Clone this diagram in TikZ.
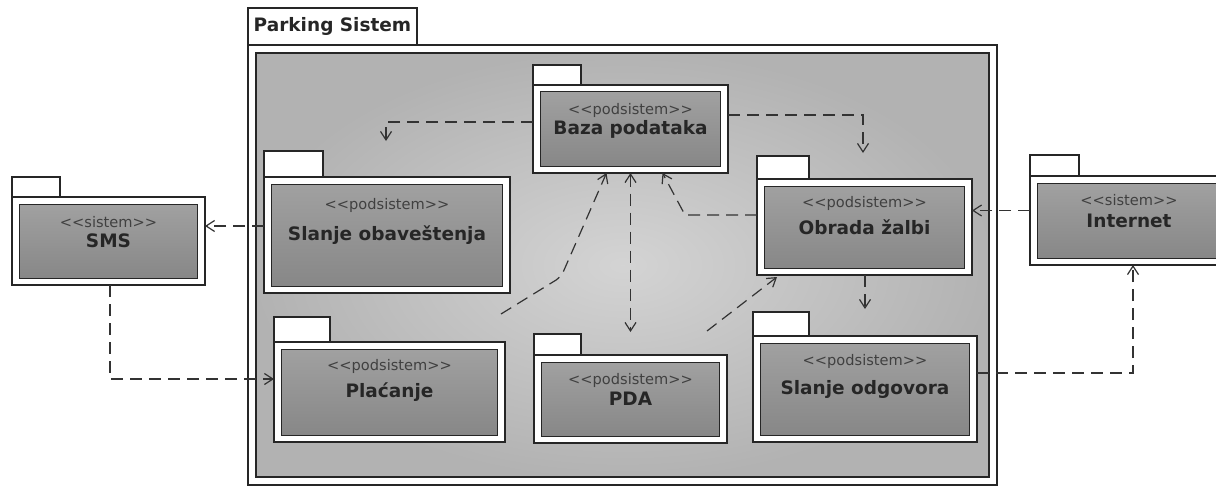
\documentclass[tikz,border=0pt]{standalone}
\usepackage{fontspec}
\setmainfont{DejaVu Sans}
\usetikzlibrary{arrows.meta,calc}
\newcommand\umlpkg[9]{%
  \node[pkgbody, minimum width=#3pt, minimum height=#4pt] (#1) at (#2) {};
  \node[pkgbody, minimum width=#5pt, minimum height=#6pt, anchor=south west] (#1-tab) at (#1.north west) {};
  \node[pkginner, minimum width=#3pt-15pt, minimum height=#4pt-14pt] (#1-in) at (#1) {};
  \node[stereo] (#1-st) at ([yshift=#7pt]#1.center) {<{}<#8>{}>};
  \node[pkgname] (#1-nm) at (#1.center) {#9};
}
\begin{document}
\begin{tikzpicture}[x=1pt,y=-1pt,
  pkgbody/.style={draw=black!85, fill=white, line width=1.1pt, inner sep=0pt, outer sep=0pt},
  pkginner/.style={draw=black!85, line width=1pt, top color=black!37, bottom color=black!47, inner sep=0pt, outer sep=0pt},
  sysinner/.style={draw=black!85, line width=1.1pt, inner color=black!17, outer color=black!30, inner sep=0pt, outer sep=0pt},
  stereo/.style={font=\fontsize{14.6}{16}\selectfont, text=black!75, inner sep=0pt},
  pkgname/.style={font=\fontsize{18.5}{21}\selectfont\bfseries, text=black!85, inner sep=0pt},
  >={Straight Barb[length=8.5pt,width=11pt]},
  dep/.style={draw=black!80, line width=1.2pt, dash pattern=on 12pt off 7pt, ->},
  depboth/.style={dep, <->}]
\useasboundingbox (0,0) rectangle (1216,487);
\fill[white] (0,0) rectangle (1216,487);
% system frame
\node[pkgbody, minimum width=749pt, minimum height=440pt] (sys) at (622.5,265) {};
\node[pkgbody, minimum width=169pt, minimum height=37pt, anchor=south west, font=\fontsize{18.5}{21}\selectfont\bfseries, text=black!85] (sys-tab) at (sys.north west) {Parking Sistem};
\node[sysinner, minimum width=733pt, minimum height=424pt] (sys-in) at (sys) {};
% packages
\umlpkg{sms}{108.5,241}{193}{88}{48}{20}{19}{sistem}{SMS}
\umlpkg{obav}{387,235}{246}{116}{59}{26}{30}{podsistem}{Slanje obaveštenja}
\umlpkg{baza}{630.5,129}{195}{88}{48}{20}{19}{podsistem}{Baza podataka}
\umlpkg{obrada}{864.5,227}{215}{96}{52}{23}{24}{podsistem}{Obrada žalbi}
\umlpkg{internet}{1129,220.5}{198}{89}{49}{21}{20}{sistem}{Internet}
\umlpkg{placanje}{389.5,392}{231}{100}{56}{25}{26}{podsistem}{Plaćanje}
\umlpkg{pda}{630.5,399}{193}{88}{47}{21}{19}{podsistem}{PDA}
\umlpkg{odg}{865,389}{224}{106}{56}{24}{28}{podsistem}{Slanje odgovora}
% connectors
\coordinate (e1) at (386,141);
\draw[dep] ([yshift=7pt]baza.west) -| (e1);
\coordinate (e2) at (863,153);
\draw[dep] ([yshift=14pt]baza.east) -| (e2);
\coordinate (k3) at (685,215);
\draw[dep] ([yshift=12pt]obrada.west) -- (k3) -- ([xshift=32pt]baza.south);
\coordinate (s4) at (501,314);
\coordinate (k4) at (561,277);
\draw[dep, rounded corners=6pt] (s4) -- (k4) -- ([xshift=-24pt]baza.south);
\draw[depboth] (baza.south) -- ([yshift=23pt]pda.north);
\coordinate (s6) at (707,331);
\draw[dep] (s6) -- ([xshift=20pt,yshift=-2pt]obrada.south west);
\coordinate (e7) at (865,309);
\draw[dep] (obrada.south -| e7) -- (e7);
\draw[dep] ([yshift=10pt]internet.west) coordinate (s8) -- (obrada.east |- s8);
\draw[dep] ([yshift=16pt]odg.east) -| ([xshift=4pt]internet.south);
\draw[dep] ([yshift=9pt]obav.west) coordinate (s10) -- (sms.east |- s10);
\draw[dep] ([xshift=1.5pt]sms.south) |- ([yshift=13pt]placanje.west);
\end{tikzpicture}
\end{document}
